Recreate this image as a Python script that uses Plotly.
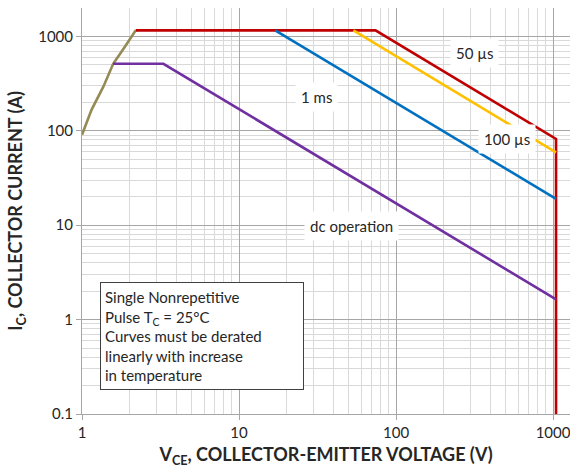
import numpy as np
import plotly.graph_objects as go

# Safe operating area boundaries (V_CE in volts, I_C in amps)
sat_v = [1.0, 1.15, 1.37, 1.58, 1.88, 2.2]
sat_i = [91, 167, 295, 513, 783, 1160]

us50_v = [2.2, 74, 1045, 1045]
us50_i = [1160, 1160, 82, 0.1]

us100_v = [53.5, 1045]
us100_i = [1160, 59]

ms1_v = [17, 1045]
ms1_i = [1160, 19]

dc_v = [1.58, 3.3, 1045]
dc_i = [513, 513, 1.64]

x_ticks = [1, 10, 100, 1000]
x_tick_text = ["1", "10", "100", "1000"]
y_ticks = [0.1, 1, 10, 100, 1000]
y_tick_text = ["0.1", "1", "10", "100", "1000"]

curve_labels = [
    ("50 µs", 318, 671),
    ("1 ms", 31.3, 230),
    ("100 µs", 507, 82),
    ("dc operation", 52.2, 9.8),
]

FONT = "Lato"
TXT = "#262626"

fig = go.Figure()
series = [
    (sat_v, sat_i, "#948A54"),
    (us50_v, us50_i, "#C00000"),
    (us100_v, us100_i, "#FFC000"),
    (ms1_v, ms1_i, "#0070C0"),
    (dc_v, dc_i, "#7030A0"),
]
for v, i, c in series:
    fig.add_trace(go.Scatter(x=v, y=i, mode="lines",
                             line=dict(color=c, width=2.6),
                             showlegend=False, hoverinfo="skip"))

def minor_vals(lo, hi):
    out = []
    for d in range(lo, hi + 1):
        for m in range(2, 10):
            out.append(m * 10.0 ** d)
    return out

for text, xv, yv in curve_labels:
    fig.add_annotation(x=np.log10(xv), y=np.log10(yv), text=text,
                       showarrow=False, bgcolor="white", borderpad=5,
                       font=dict(family=FONT, size=15, color=TXT))

fig.add_annotation(
    xref="paper", yref="paper", x=0.037, y=0.325,
    xanchor="left", yanchor="top", align="left", valign="middle",
    width=194, height=98,
    text="Single Nonrepetitive<br>Pulse T<sub>C</sub> = 25°C<br>Curves must be derated"
         "<br>linearly with increase<br>in temperature",
    showarrow=False, bgcolor="white", bordercolor="#404040", borderwidth=1,
    borderpad=4, font=dict(family=FONT, size=15, color=TXT))

fig.update_xaxes(
    type="log", range=[0, 3.108],
    tickvals=x_ticks, ticktext=x_tick_text, ticklabeloverflow="allow",
    ticks="outside", ticklen=5, tickcolor="#a6a6a6",
    showgrid=True, gridcolor="#a6a6a6", gridwidth=1,
    minor=dict(tickvals=minor_vals(0, 3), showgrid=True,
               gridcolor="#d9d9d9", gridwidth=1, ticks=""),
    showline=True, linecolor="#a6a6a6", linewidth=1,
    zeroline=False,
    tickfont=dict(family=FONT, size=15, color=TXT),
    title=dict(text="<b>V<sub>CE</sub>, COLLECTOR-EMITTER VOLTAGE (V)</b>",
               font=dict(family=FONT, size=18, color=TXT), standoff=8),
)
fig.update_yaxes(
    type="log", range=[-1, 3.301],
    tickvals=y_ticks, ticktext=y_tick_text,
    ticks="outside", ticklen=5, tickcolor="#a6a6a6",
    showgrid=True, gridcolor="#a6a6a6", gridwidth=1,
    minor=dict(tickvals=minor_vals(-1, 3), showgrid=True,
               gridcolor="#d9d9d9", gridwidth=1, ticks=""),
    showline=True, linecolor="#a6a6a6", linewidth=1,
    zeroline=False,
    tickfont=dict(family=FONT, size=15, color=TXT),
    title=dict(text="<b>I<sub>C</sub>, COLLECTOR CURRENT (A)</b>",
               font=dict(family=FONT, size=18, color=TXT), standoff=10),
)

fig.update_layout(
    width=570, height=470,
    margin=dict(l=82, r=0, t=8, b=56),
    plot_bgcolor="white", paper_bgcolor="white",
)

fig.write_html("out.html")
